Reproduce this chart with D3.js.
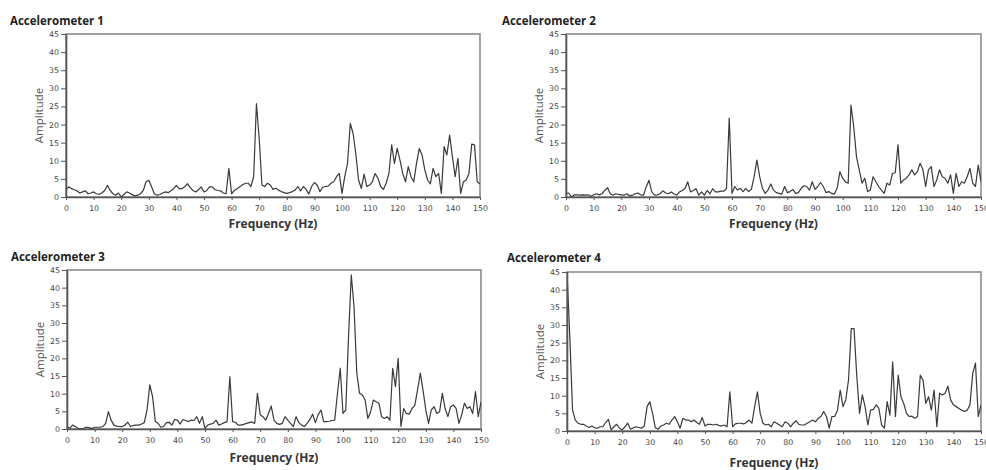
<!DOCTYPE html>
<html>
<head>
<meta charset="utf-8">
<script src="https://cdn.jsdelivr.net/npm/d3@7"></script>
<style>
  body { margin: 0; background: #fff; }
  .tick text { font-family: "DejaVu Sans", sans-serif; font-size: 7.8px; fill: #444; }
  .tick line { stroke: #555; }
  .domain { stroke: #555; stroke-width: 1.6; }
  .title { font-family: "Open Sans", sans-serif; font-weight: bold; font-size: 11.5px; fill: #222; }
  .xlabel { font-family: "Open Sans", sans-serif; font-weight: bold; font-size: 12px; fill: #333; }
  .ylabel { font-family: "Open Sans", sans-serif; font-size: 11.5px; fill: #555; }
</style>
</head>
<body>
<div id="chart"></div>
<script>
// amplitude at 0,1,2 ... 150 Hz (1 Hz steps)
var acc1 = [2,2.8,2.3,2,1.7,1.1,1.4,1.7,0.9,1.1,1.4,0.9,0.7,1.1,1.8,3.2,1.8,0.9,0.5,1.1,
  0,0.7,1.4,1.1,0.6,0.3,0.5,0.9,1.8,4.2,4.6,2.8,0.9,0.5,0.7,1.1,1.4,1.2,1.7,2.3,
  3.2,2.3,2.3,2.8,3.7,2.6,1.8,1.4,2,2.8,1.4,1.8,2.8,2.8,2,1.8,1.7,1.1,0.9,7.9,
  0.9,1.8,2.3,2.8,3.4,3.8,3.8,2.9,5.6,25.8,16,3.3,2.9,3.8,3.3,2.1,2.4,1.9,1.5,1.2,
  1,1.2,1.5,1.9,2.9,1.7,2.9,2.1,0.8,2.9,4,3.3,1.5,2.7,2.9,3,3.8,4.2,5.6,6.5,
  1,5.6,9.3,20.3,17.6,12,4.7,2.4,6.3,2.9,3.3,4.2,6.5,5.2,2.9,2.1,3.8,6.5,14.4,9.3,
  13.4,10.2,6.5,4.2,8.4,5.6,4.2,9.3,13.4,11.6,7.5,4.7,3.6,7.9,5.6,6.5,1,13.9,11.6,17.1,
  11.1,5.6,10.7,1,4.2,4.7,6.5,14.6,14.4,4.2,3.6];
var acc2 = [0.9,1.1,0,0.6,0.6,0.5,0.6,0.5,0.6,0.2,0.6,0.9,0.6,0.9,1.8,2.6,0.9,0.5,0.9,0.7,
  0.6,0.5,0.9,0.3,0.5,0.9,1.1,0.6,0.5,2.8,4.6,1.4,0.5,0.6,0.9,1.7,1.1,0.9,1.4,0.9,
  0.5,1.4,1.8,2.3,4.2,1.4,1.8,2.3,0.5,1.4,0.5,1.8,0.9,2.3,1.4,1.4,1.6,1.6,2.3,21.8,
  1,2.9,1.9,2.4,1.5,2.4,1.5,2.1,5.6,10.2,5.6,2.4,1,1.9,3.6,1.9,1.2,1,0.8,2.9,
  1.2,1.5,2.1,1,1.2,2.4,3.1,2.9,1.9,4.2,2.1,2.9,4,2.9,1.2,1.5,1,0.8,2.4,7,
  5.2,4.2,3.8,25.4,19.4,11.1,7.5,3.8,5.2,1.5,1.9,5.6,4.2,2.9,1.9,1,3.8,3.3,6.5,6.7,
  14.4,3.8,4.7,5.2,6.1,7.5,6.1,7,9.3,7.5,2.9,7.5,8.4,2.9,4.7,7.5,5.6,5.2,3.8,6.1,
  1,6.5,2.9,4.2,3.8,5.6,7.9,3.8,2.9,8.8,4.2];
var acc3 = [0.7,0.2,1.1,0.7,0.2,0,0.2,0.5,0.4,0.1,0.5,0.5,0.5,0.7,1.6,4.9,2.5,1.1,0.8,0.7,
  0.7,1.1,1.9,0.7,1,1.1,1.1,1.4,1.8,5.4,12.5,9.2,2.1,1.6,0.5,0.7,1.8,1.9,1.1,2.7,
  2.5,1.4,2.7,2.4,2.1,2.5,2.4,3.5,1.6,3.5,0.2,1.1,1.4,1.6,2.5,1.1,1.4,1.8,2.1,14.8,
  2.1,1.9,1.1,1.1,1.3,1.6,1.8,2,1.6,10.1,4,3.5,2.5,4.4,6.5,2.5,1.6,1.3,1.6,3.5,
  2.5,1.6,0.7,3.5,1.8,1.1,0.7,1.6,2.7,4.2,1.8,4,5.4,2.1,2.1,2.2,2.4,2.5,10.1,17.2,
  4.4,5.4,26,43.6,34.6,15.8,10.1,9.6,8.2,3,4.9,8.2,7.7,7.3,3.5,3,3.5,2.5,17.2,12,
  20,0.7,5.8,4.4,4.2,5.8,6.6,11,15.8,11,5.4,1.6,5.4,6.3,4.4,4.9,10.1,5.8,3.5,6.3,
  6.8,5.8,1.6,4,7.3,5.8,6.3,4.4,10.6,3.5,7.7];
var acc4 = [45,27,6,3.1,2.2,1.9,1.9,1.4,1,1.4,0.9,0.8,1.2,1.2,2.4,3.3,0.3,1.2,1.9,0.8,
  0.3,1.2,2.2,0.5,0.9,1.2,1,0.8,1.4,6.9,8.3,5,0.9,0.5,1.4,1.7,2.2,1.9,3.1,4.1,
  2.6,0.8,3.6,3.1,3.1,2.6,3.1,2.4,1.9,3.8,1.4,1.9,1.9,1.7,1.9,1.6,1.4,1.7,1.2,11.1,
  1.2,2,2.2,2.2,2,2.4,3.1,2.2,6.9,11.1,5,2.2,1.7,1.9,1.2,2.6,2.2,1.7,1.2,2.6,
  2.2,1.2,2.2,2.9,1.9,1.7,1.7,2.2,2.6,3.1,2.6,3.6,4.1,5.5,4.1,0.8,4.1,4.1,5.9,11.6,
  6.9,8.8,14.4,29,29,15.4,5,10.2,6.9,1.7,5.9,6.1,7.4,6.4,1.7,0.8,8.3,4.5,19.6,4.1,
  15.8,9.7,7.8,5,4.1,4.2,3.6,4.1,15.8,14.4,7.8,9.7,5.9,11.6,1.2,10.7,10.2,10.7,12.7,8.8,
  7.4,6.9,6.4,5.9,5.5,5.9,7.4,16.3,19.2,4.1,7.4];

var titles = ["Accelerometer 1", "Accelerometer 2", "Accelerometer 3", "Accelerometer 4"];
var freqTicks = [0,10,20,30,40,50,60,70,80,90,100,110,120,130,140,150];
var ampTicks = [0,5,10,15,20,25,30,35,40,45];
var xLabel = "Frequency (Hz)";
var yLabel = "Amplitude";

// plot boxes as they sit in the picture
var boxes = [
  {x0: 66, x1: 480, y0: 34, y1: 197, tx: 10, ty: 25, lb: 228},
  {x0: 566, x1: 981, y0: 34, y1: 197, tx: 502, ty: 25, lb: 228},
  {x0: 67, x1: 481, y0: 270, y1: 429, tx: 11, ty: 261, lb: 462},
  {x0: 567, x1: 981, y0: 272, y1: 431, tx: 507, ty: 262, lb: 467}
];
var series = [acc1, acc2, acc3, acc4];

var svg = d3.select("#chart").append("svg")
  .attr("width", 986)
  .attr("height", 470);

for (var i = 0; i < 4; i++) {
  var b = boxes[i];
  var data = series[i].map(function(v, k) { return {f: k, a: v}; });

  var x = d3.scaleLinear().domain([0, 150]).range([b.x0, b.x1]);
  var y = d3.scaleLinear().domain([0, 45]).range([b.y1, b.y0]);

  svg.append("text").attr("class", "title")
    .attr("x", b.tx).attr("y", b.ty).text(titles[i]);

  svg.append("clipPath").attr("id", "clip" + i)
    .append("rect")
    .attr("x", b.x0).attr("y", b.y0)
    .attr("width", b.x1 - b.x0).attr("height", b.y1 - b.y0);

  // frame
  svg.append("rect")
    .attr("x", b.x0).attr("y", b.y0)
    .attr("width", b.x1 - b.x0).attr("height", b.y1 - b.y0)
    .attr("fill", "none").attr("stroke", "#8c8c8c").attr("stroke-width", 1.6);

  var line = d3.line()
    .x(function(d) { return x(d.f); })
    .y(function(d) { return y(d.a); });

  svg.append("path")
    .datum(data)
    .attr("clip-path", "url(#clip" + i + ")")
    .attr("fill", "none")
    .attr("stroke", "#3a3a3a")
    .attr("stroke-width", 1.2)
    .attr("stroke-linejoin", "round")
    .attr("d", line);

  svg.append("g")
    .attr("transform", "translate(0," + b.y1 + ")")
    .call(d3.axisBottom(x).tickValues(freqTicks).tickSize(3).tickPadding(5).tickSizeOuter(0));

  svg.append("g")
    .attr("transform", "translate(" + b.x0 + ",0)")
    .call(d3.axisLeft(y).tickValues(ampTicks).tickSize(5).tickPadding(2).tickSizeOuter(0));

  svg.append("text").attr("class", "xlabel")
    .attr("x", (b.x0 + b.x1) / 2).attr("y", b.lb)
    .attr("text-anchor", "middle").text(xLabel);

  svg.append("text").attr("class", "ylabel")
    .attr("transform", "translate(" + (b.x0 - 23) + "," + ((b.y0 + b.y1) / 2) + ") rotate(-90)")
    .attr("text-anchor", "middle").text(yLabel);
}
</script>
</body>
</html>
